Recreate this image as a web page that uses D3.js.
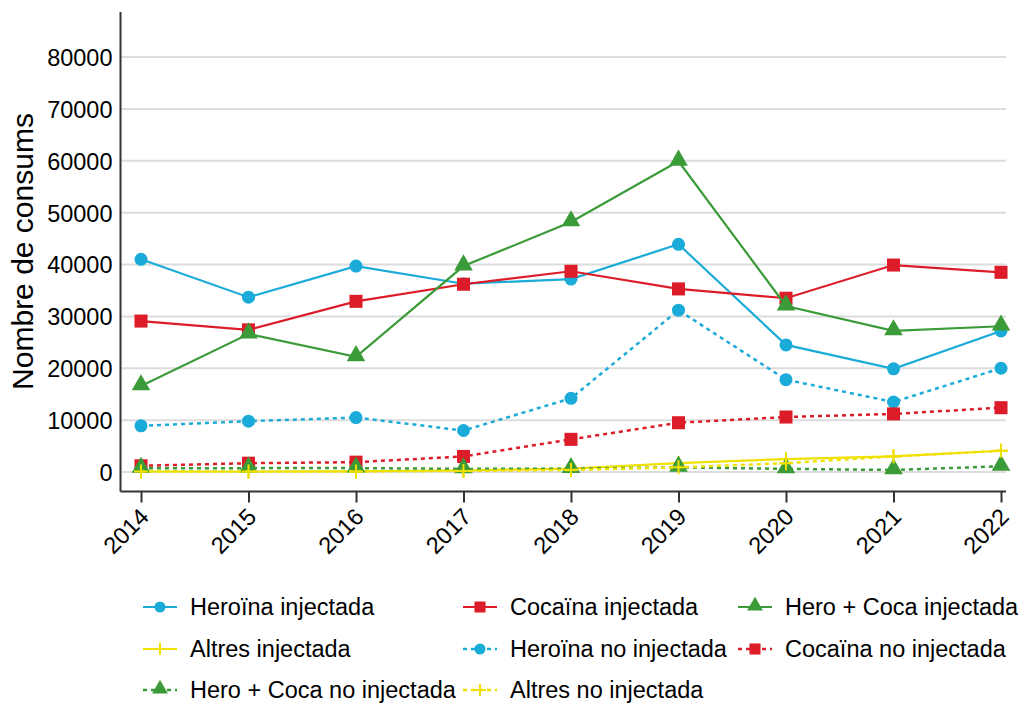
<!DOCTYPE html>
<html>
<head>
<meta charset="utf-8">
<script src="https://cdn.jsdelivr.net/npm/d3@7"></script>
<style>
  body { margin: 0; background: #fff; }
  text { font-family: "Liberation Sans", Arial, sans-serif; fill: #000; }
</style>
</head>
<body>
<div id="chart"></div>
<script>
// data
var years = [2014, 2015, 2016, 2017, 2018, 2019, 2020, 2021, 2022];
var yTicks = [0, 10000, 20000, 30000, 40000, 50000, 60000, 70000, 80000];

var heroinaInj   = [41000, 33700, 39700, 36300, 37200, 43900, 24500, 19900, 27200];
var cocainaInj   = [29100, 27400, 32900, 36200, 38700, 35300, 33500, 39900, 38500];
var heroCocaInj  = [16600, 26600, 22200, 39700, 48200, 59900, 32000, 27200, 28100];
var altresInj    = [100, 100, 150, 300, 650, 1700, 2500, 3000, 4100];
var heroinaNo    = [8900, 9800, 10500, 8000, 14200, 31200, 17800, 13500, 20000];
var cocainaNo    = [1200, 1700, 1900, 3000, 6300, 9500, 10600, 11200, 12400];
var heroCocaNo   = [700, 750, 750, 600, 650, 900, 600, 400, 1100];
var altresNo     = [100, 100, 100, 200, 400, 900, 1700, 3000, 4100];

var blue = "#1aabd8", red = "#dc1c28", green = "#3b9b38", yellow = "#f0e000";

var series = [
  {name: "Heroïna injectada",        values: heroinaInj,  color: blue,   shape: "circle",   dashed: false},
  {name: "Cocaïna injectada",        values: cocainaInj,  color: red,    shape: "square",   dashed: false},
  {name: "Hero + Coca injectada",    values: heroCocaInj, color: green,  shape: "triangle", dashed: false},
  {name: "Altres injectada",         values: altresInj,   color: yellow, shape: "plus",     dashed: false},
  {name: "Heroïna no injectada",     values: heroinaNo,   color: blue,   shape: "circle",   dashed: true},
  {name: "Cocaïna no injectada",     values: cocainaNo,   color: red,    shape: "square",   dashed: true},
  {name: "Hero + Coca no injectada", values: heroCocaNo,  color: green,  shape: "triangle", dashed: true},
  {name: "Altres no injectada",      values: altresNo,    color: yellow, shape: "plus",     dashed: true}
];

var width = 1026, height = 704;

var svg = d3.select("#chart")
  .append("svg")
    .attr("width", width)
    .attr("height", height);

var xScale = d3.scaleLinear()
  .domain([2014, 2022])
  .range([141, 1001]);

var yScale = d3.scaleLinear()
  .domain([-3660, 88680])
  .range([491, 12]);

var axisLeftX = 120.5, axisRightX = 1006, axisBottomY = 491.5;

// gridlines
svg.append("g")
  .selectAll("line")
  .data(yTicks)
  .enter()
  .append("line")
    .attr("x1", axisLeftX)
    .attr("x2", axisRightX)
    .attr("y1", function(d){ return yScale(d); })
    .attr("y2", function(d){ return yScale(d); })
    .attr("stroke", "#dcdcdc")
    .attr("stroke-width", 2);

// y axis
var yAxis = svg.append("g")
  .attr("transform", "translate(" + axisLeftX + ",0)")
  .call(d3.axisLeft(yScale).tickValues(yTicks).tickSize(0).tickPadding(8).tickFormat(d3.format("d")));
yAxis.select(".domain")
  .attr("d", "M0," + yScale.range()[1] + "V" + axisBottomY)
  .attr("stroke", "#333")
  .attr("stroke-width", 2);
yAxis.selectAll("text")
  .style("font-size", "23.5px")
  .style("font-family", "Liberation Sans, Arial, sans-serif")
  .attr("dy", "0.36em");

// x axis
var xAxis = svg.append("g")
  .attr("transform", "translate(0," + axisBottomY + ")")
  .call(d3.axisBottom(xScale).tickValues(years).tickSize(11).tickFormat(d3.format("d")));
xAxis.select(".domain")
  .attr("d", "M" + axisLeftX + ",0H" + axisRightX)
  .attr("stroke", "#333")
  .attr("stroke-width", 2);
xAxis.selectAll(".tick line")
  .attr("stroke", "#333")
  .attr("stroke-width", 2);
xAxis.selectAll("text")
  .style("font-size", "23.5px")
  .style("font-family", "Liberation Sans, Arial, sans-serif")
  .attr("text-anchor", "end")
  .attr("x", 0)
  .attr("y", 0)
  .attr("dy", "0.35em")
  .attr("transform", "translate(3,21) rotate(-45)");

// y title
svg.append("text")
  .attr("transform", "translate(33," + yScale((yScale.domain()[0] + yScale.domain()[1]) / 2) + ") rotate(-90)")
  .attr("text-anchor", "middle")
  .style("font-size", "30px")
  .text("Nombre de consums");

// markers
function drawMarker(sel, shape, color, scale) {
  if (shape === "circle") {
    sel.append("circle").attr("r", 6.5 * scale).attr("fill", color);
  } else if (shape === "square") {
    sel.append("path").attr("d", d3.symbol(d3.symbolSquare, 170 * scale * scale)).attr("fill", color);
  } else if (shape === "triangle") {
    sel.append("path").attr("d", d3.symbol(d3.symbolTriangle, 150 * scale * scale)).attr("fill", color)
      .attr("transform", "translate(0,-1)");
  } else {
    var s = 7 * scale;
    sel.append("path").attr("d", "M" + (-s) + ",0H" + s + "M0," + (-s) + "V" + s)
      .attr("stroke", color).attr("stroke-width", 2).attr("fill", "none");
  }
}

var line = d3.line()
  .x(function(d, i){ return xScale(years[i]); })
  .y(function(d){ return yScale(d); });

var plot = svg.append("g");

series.forEach(function(s) {
  var g = plot.append("g");
  g.append("path")
    .attr("d", line(s.values))
    .attr("fill", "none")
    .attr("stroke", s.color)
    .attr("stroke-width", s.dashed ? 2.5 : 2.2)
    .attr("stroke-dasharray", s.dashed ? "4,4" : null);
  g.selectAll("g.pt")
    .data(s.values)
    .enter()
    .append("g")
      .attr("class", "pt")
      .attr("transform", function(d, i){ return "translate(" + xScale(years[i]) + "," + yScale(d) + ")"; })
      .each(function(){ drawMarker(d3.select(this), s.shape, s.color, 1); });
});

// legend
var legX = [143, 463, 738], legY = [607, 649, 690];
var legend = svg.append("g");
series.forEach(function(s, i) {
  var gx = legX[i % 3], gy = legY[Math.floor(i / 3)];
  var g = legend.append("g").attr("transform", "translate(" + gx + "," + gy + ")");
  g.append("line")
    .attr("x1", 0).attr("x2", 34)
    .attr("stroke", s.color)
    .attr("stroke-width", s.dashed ? 2.5 : 2.2)
    .attr("stroke-dasharray", s.dashed ? "4,4" : null);
  var m = g.append("g").attr("transform", "translate(17,0)");
  drawMarker(m, s.shape, s.color, 0.85);
  g.append("text")
    .attr("x", 47)
    .attr("dy", "0.35em")
    .style("font-size", "23.5px")
    .text(s.name);
});
</script>
</body>
</html>
